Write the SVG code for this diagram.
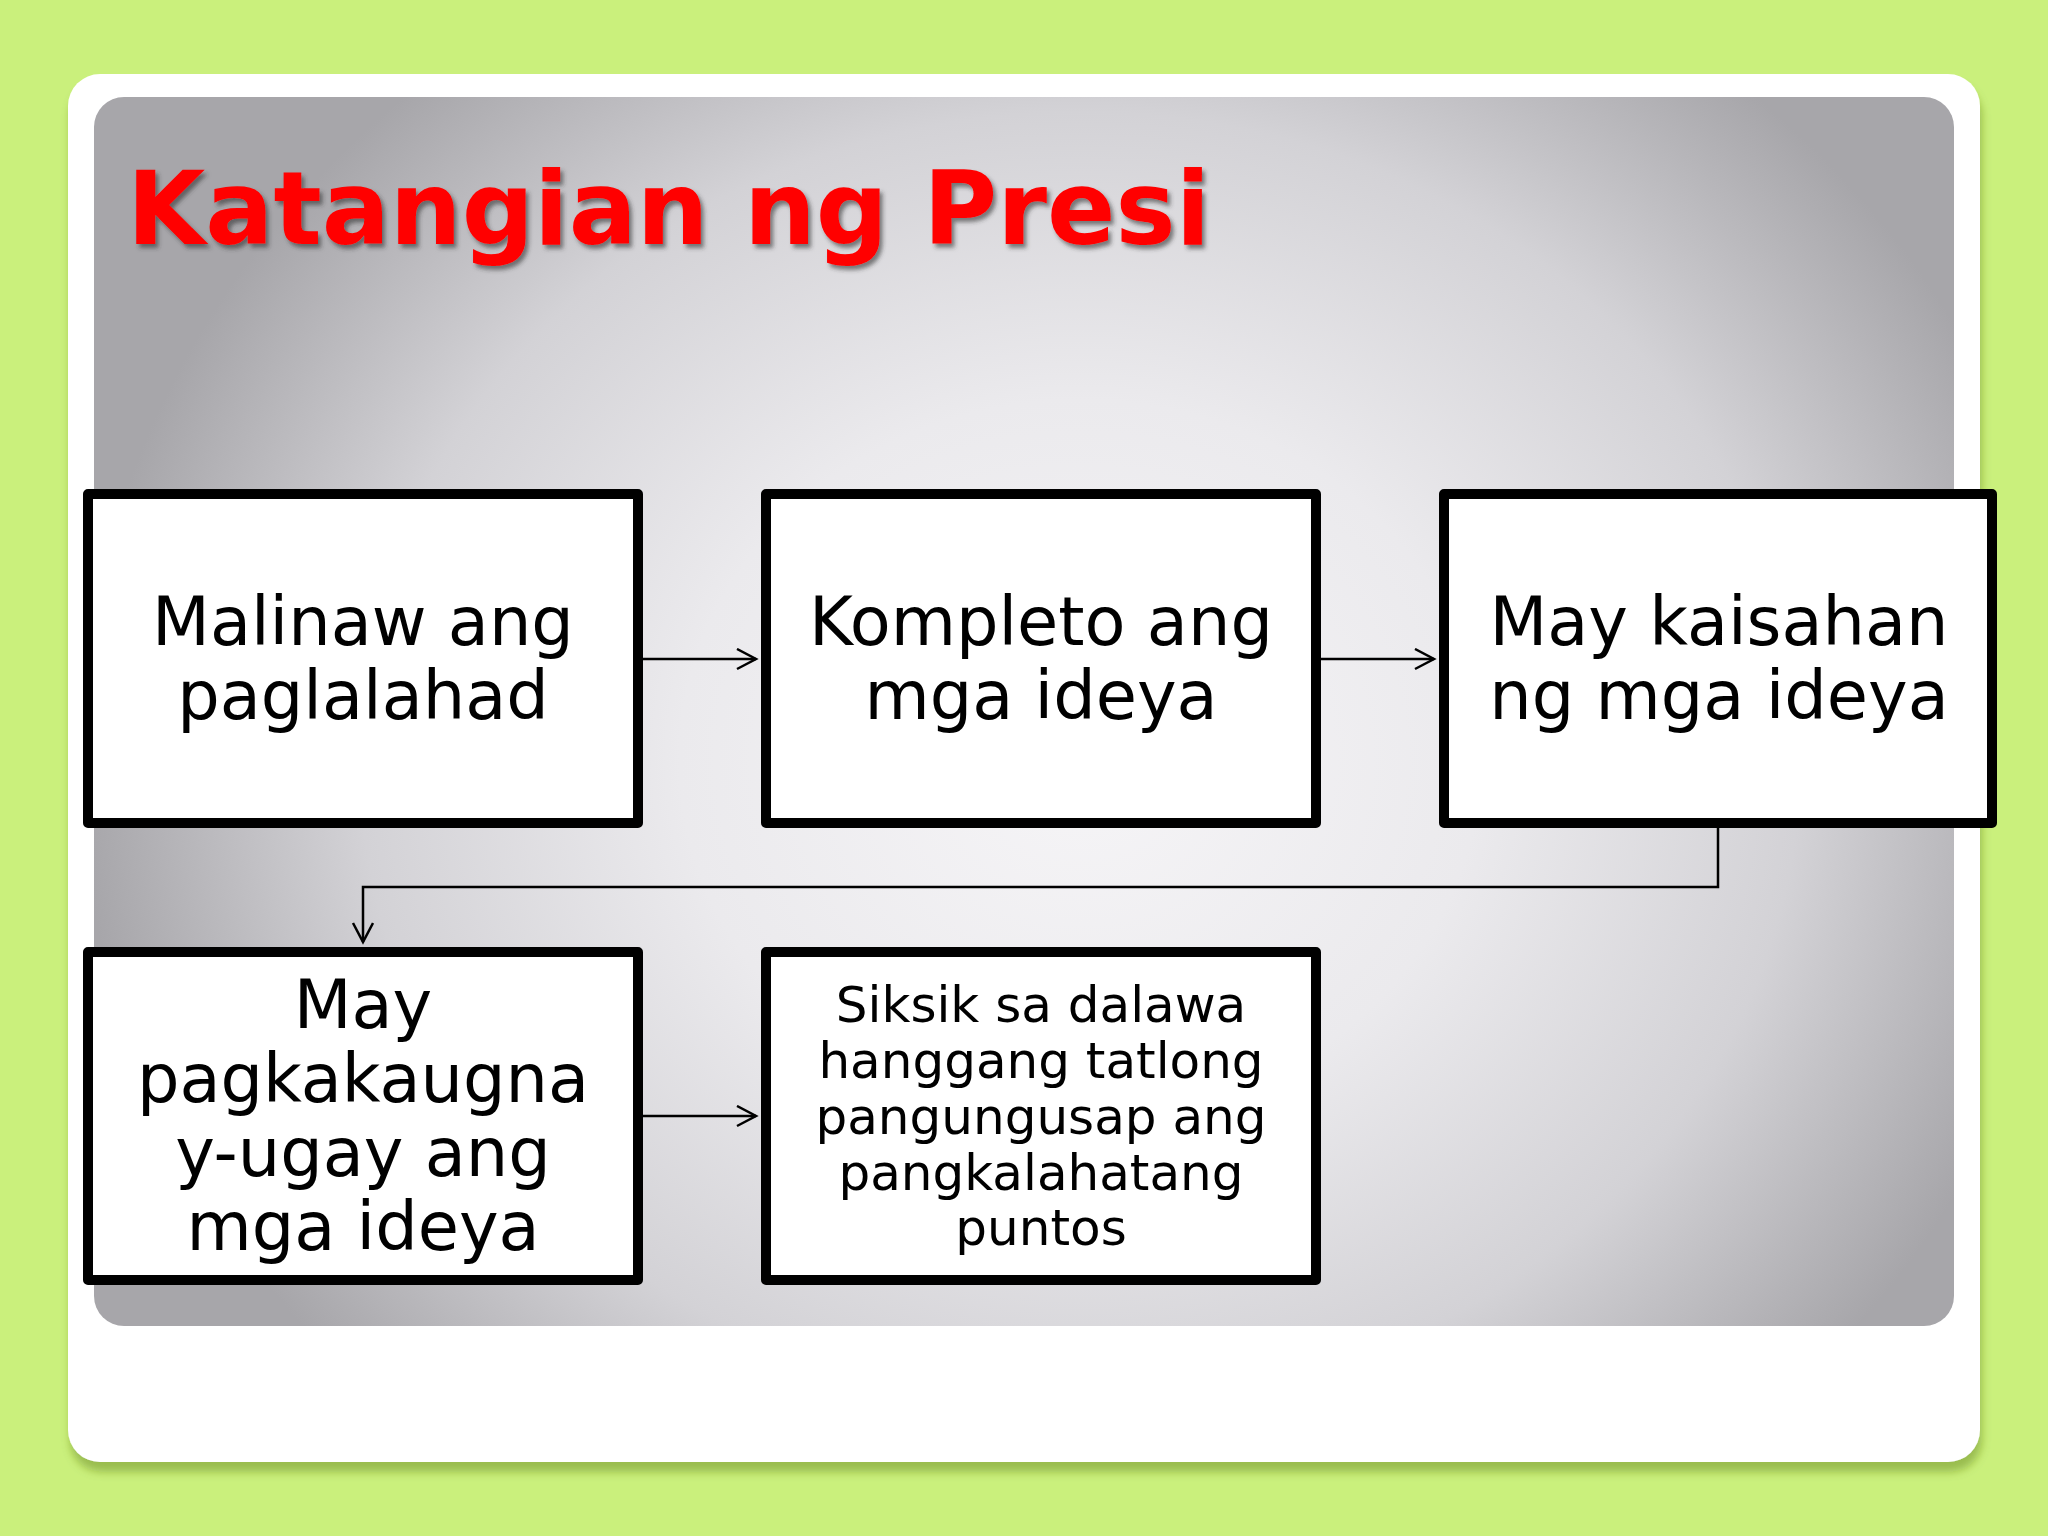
<svg xmlns="http://www.w3.org/2000/svg" width="2048" height="1536" viewBox="0 0 2048 1536">
<defs>
<radialGradient id="panelGrad" gradientUnits="userSpaceOnUse" cx="1080" cy="760" r="1000" gradientTransform="translate(1080 760) scale(1 0.9) translate(-1080 -760)">
<stop offset="0" stop-color="#f6f5f7"/>
<stop offset="0.4" stop-color="#ebeaed"/>
<stop offset="0.72" stop-color="#d3d2d6"/>
<stop offset="1" stop-color="#a7a6aa"/>
</radialGradient>
<filter id="cardShadow" x="-5%" y="-5%" width="110%" height="110%">
<feDropShadow dx="2" dy="10" stdDeviation="4" flood-color="#5f7f1a" flood-opacity="0.45"/>
</filter>
<filter id="titleShadow" x="-5%" y="-20%" width="110%" height="140%">
<feDropShadow dx="3" dy="4" stdDeviation="2" flood-color="#333" flood-opacity="0.6"/>
</filter>
<marker id="arrow" markerUnits="userSpaceOnUse" markerWidth="30" markerHeight="30" refX="20" refY="11" orient="auto">
<path d="M1,1 L20,11 L1,21" fill="none" stroke="#000" stroke-width="2.5"/>
</marker>
<style>
.box{fill:#fff;stroke:#000;stroke-width:10;stroke-linejoin:round}
.lbl{font-family:"DejaVu Sans","Verdana",sans-serif;font-size:67px;fill:#000;text-anchor:middle}
.lbl-s{font-family:"DejaVu Sans","Verdana",sans-serif;font-size:50px;fill:#000;text-anchor:middle}
.conn{fill:none;stroke:#000;stroke-width:2.5;marker-end:url(#arrow)}
</style>
</defs>
<rect width="2048" height="1536" fill="#caf07c"/>
<rect x="68" y="74" width="1912" height="1388" rx="32" fill="#ffffff" filter="url(#cardShadow)"/>
<rect x="94" y="97" width="1860" height="1229" rx="30" fill="url(#panelGrad)"/>
<text x="127" y="244" font-family="'DejaVu Sans',Verdana,sans-serif" font-weight="bold" font-size="101" fill="#ff0000" filter="url(#titleShadow)">Katangian ng Presi</text>

<g id="connectors">
<path class="conn" d="M643,659 L756,659"/>
<path class="conn" d="M1321,659 L1434,659"/>
<path class="conn" d="M1718,828 L1718,887 L363,887 L363,942"/>
<path class="conn" d="M643,1116 L756,1116"/>
</g>

<g id="node1">
<rect class="box" x="88" y="494" width="550" height="329"/>
<text class="lbl" x="363" y="645">Malinaw ang</text>
<text class="lbl" x="363" y="719">paglalahad</text>
</g>
<g id="node2">
<rect class="box" x="766" y="494" width="550" height="329"/>
<text class="lbl" x="1041" y="645">Kompleto ang</text>
<text class="lbl" x="1041" y="719">mga ideya</text>
</g>
<g id="node3">
<rect class="box" x="1444" y="494" width="548" height="329"/>
<text class="lbl" x="1719" y="645">May kaisahan</text>
<text class="lbl" x="1719" y="719">ng mga ideya</text>
</g>
<g id="node4">
<rect class="box" x="88" y="952" width="550" height="328"/>
<text class="lbl" x="363" y="1028">May</text>
<text class="lbl" x="363" y="1102">pagkakaugna</text>
<text class="lbl" x="363" y="1176">y-ugay ang</text>
<text class="lbl" x="363" y="1250">mga ideya</text>
</g>
<g id="node5">
<rect class="box" x="766" y="952" width="550" height="328"/>
<text class="lbl-s" x="1041" y="1022">Siksik sa dalawa</text>
<text class="lbl-s" x="1041" y="1078">hanggang tatlong</text>
<text class="lbl-s" x="1041" y="1134">pangungusap ang</text>
<text class="lbl-s" x="1041" y="1190">pangkalahatang</text>
<text class="lbl-s" x="1041" y="1245">puntos</text>
</g>
</svg>
